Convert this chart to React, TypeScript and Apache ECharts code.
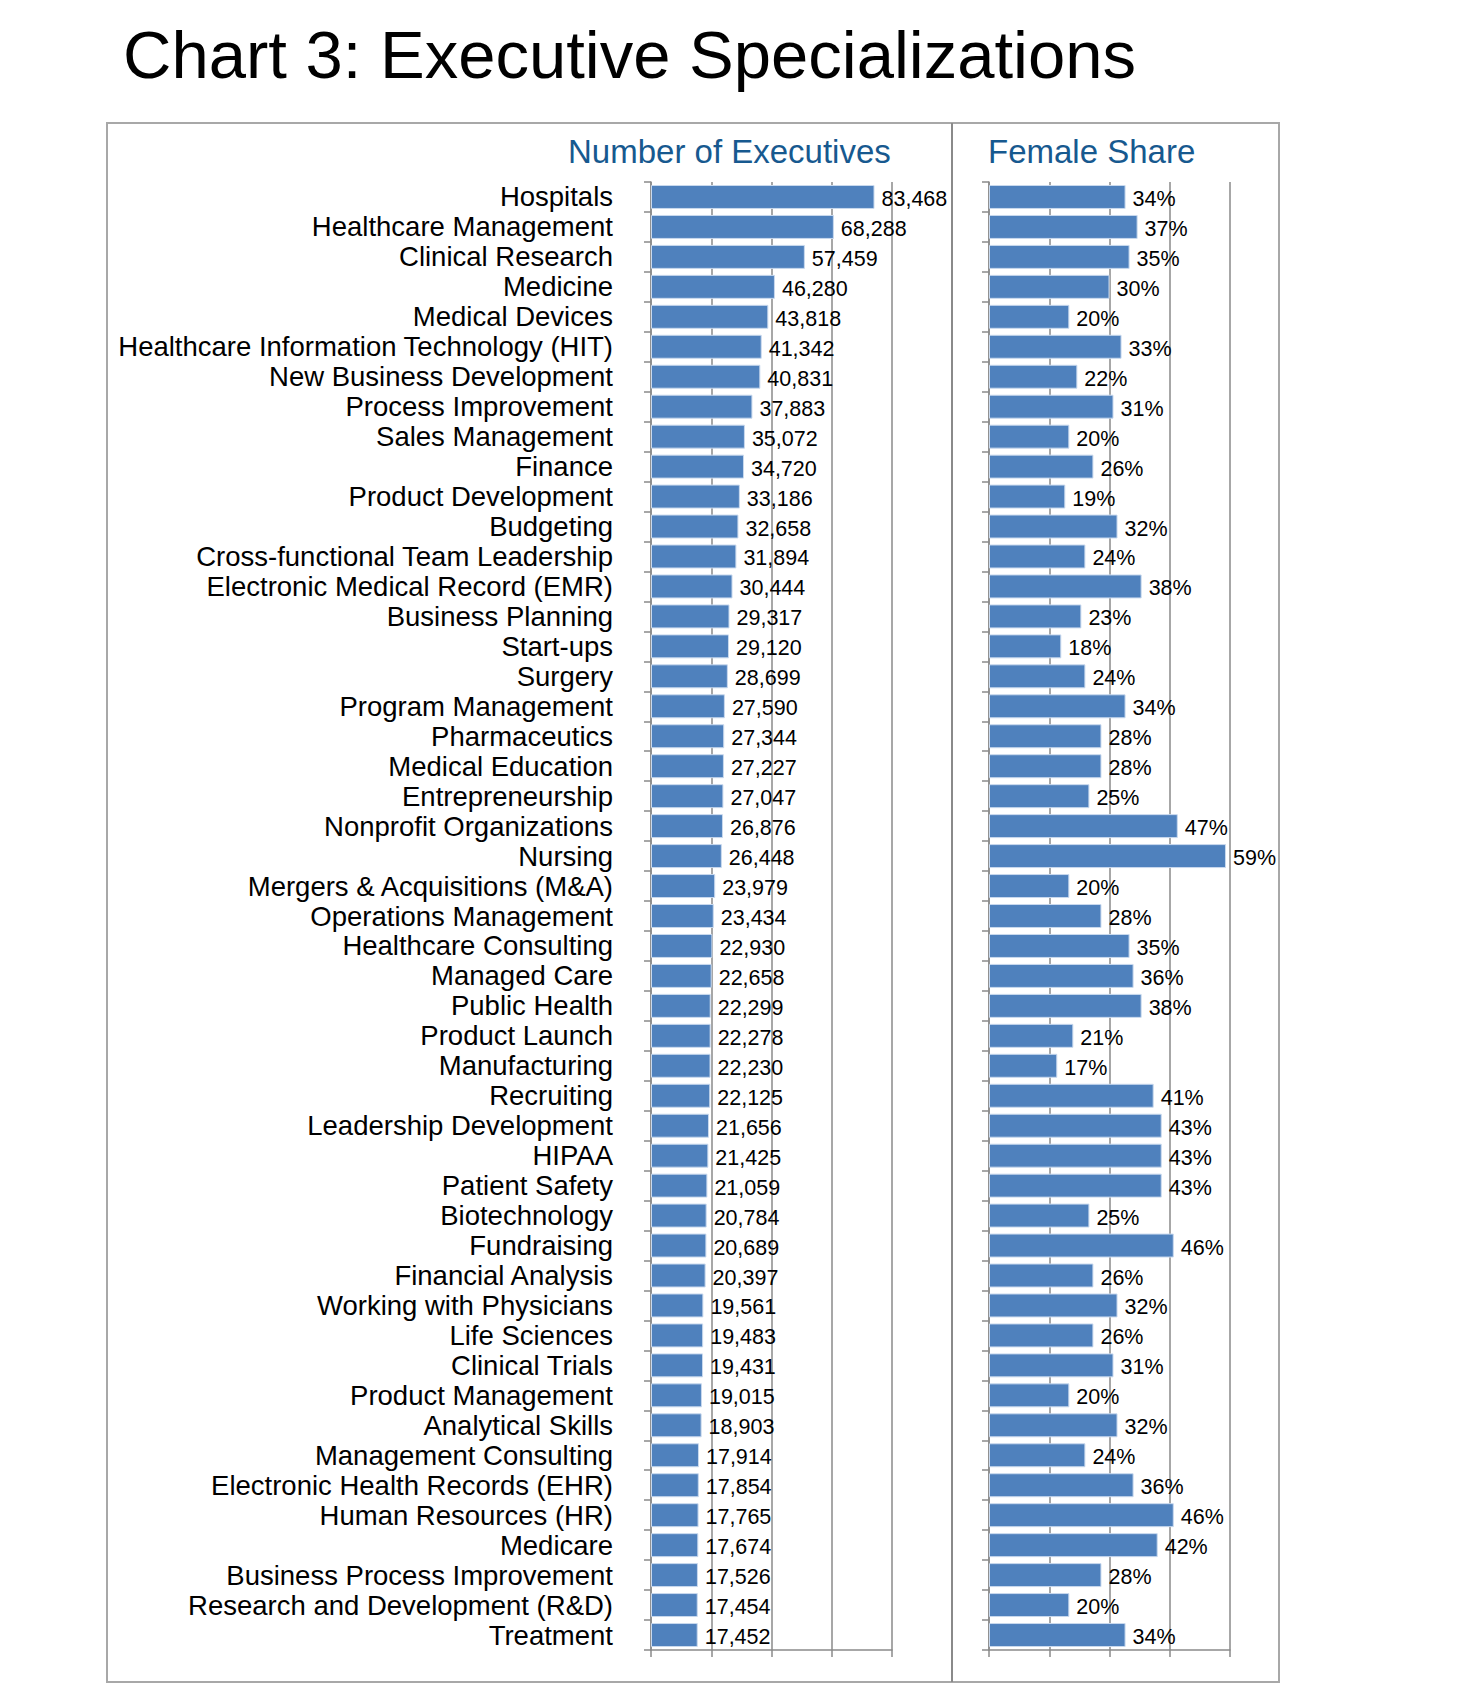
import React, { useEffect, useRef } from "react";
import * as echarts from "echarts";

const categories: string[] = [
  "Hospitals",
  "Healthcare Management",
  "Clinical Research",
  "Medicine",
  "Medical Devices",
  "Healthcare Information Technology (HIT)",
  "New Business Development",
  "Process Improvement",
  "Sales Management",
  "Finance",
  "Product Development",
  "Budgeting",
  "Cross-functional Team Leadership",
  "Electronic Medical Record (EMR)",
  "Business Planning",
  "Start-ups",
  "Surgery",
  "Program Management",
  "Pharmaceutics",
  "Medical Education",
  "Entrepreneurship",
  "Nonprofit Organizations",
  "Nursing",
  "Mergers & Acquisitions (M&A)",
  "Operations Management",
  "Healthcare Consulting",
  "Managed Care",
  "Public Health",
  "Product Launch",
  "Manufacturing",
  "Recruiting",
  "Leadership Development",
  "HIPAA",
  "Patient Safety",
  "Biotechnology",
  "Fundraising",
  "Financial Analysis",
  "Working with Physicians",
  "Life Sciences",
  "Clinical Trials",
  "Product Management",
  "Analytical Skills",
  "Management Consulting",
  "Electronic Health Records (EHR)",
  "Human Resources (HR)",
  "Medicare",
  "Business Process Improvement",
  "Research and Development (R&D)",
  "Treatment",
];

const executives: number[] = [
  83468, 68288, 57459, 46280, 43818, 41342, 40831, 37883, 35072, 34720,
  33186, 32658, 31894, 30444, 29317, 29120, 28699, 27590, 27344, 27227,
  27047, 26876, 26448, 23979, 23434, 22930, 22658, 22299, 22278, 22230,
  22125, 21656, 21425, 21059, 20784, 20689, 20397, 19561, 19483, 19431,
  19015, 18903, 17914, 17854, 17765, 17674, 17526, 17454, 17452,
];

const femaleShare: number[] = [
  34, 37, 35, 30, 20, 33, 22, 31, 20, 26,
  19, 32, 24, 38, 23, 18, 24, 34, 28, 28,
  25, 47, 59, 20, 28, 35, 36, 38, 21, 17,
  41, 43, 43, 43, 25, 46, 26, 32, 26, 31,
  20, 32, 24, 36, 46, 42, 28, 20, 34,
];

const titleText = "Chart 3: Executive Specializations";
const panelTitles: string[] = ["Number of Executives", "Female Share"];

const FONT = "'Liberation Sans', Arial, Helvetica, sans-serif";
const AXIS_GRAY = "#8a8a8a";
const BAR_BLUE = "#4F81BD";

export default function App() {
  const ref = useRef<HTMLDivElement>(null);

  useEffect(() => {
    if (!ref.current) return;
    const chart = echarts.init(ref.current, undefined, { renderer: "svg" });

    const axisCommonY = (gridIndex: number, showLabels: boolean) => ({
      type: "category" as const,
      gridIndex,
      data: categories,
      inverse: true,
      boundaryGap: true,
      axisLine: { show: true, lineStyle: { color: AXIS_GRAY, width: 1.5 } },
      axisTick: { show: true, length: 7, interval: 0, lineStyle: { color: AXIS_GRAY, width: 1.5 } },
      axisLabel: {
        show: showLabels,
        interval: 0,
        fontSize: 27.5,
        fontFamily: FONT,
        color: "#000",
        margin: 38,
        padding: [3, 0, 0, 0],
      },
      splitLine: { show: false },
    });

    const axisCommonX = (gridIndex: number, max: number, interval: number) => ({
      type: "value" as const,
      gridIndex,
      min: 0,
      max,
      interval,
      axisLine: { show: true, lineStyle: { color: AXIS_GRAY, width: 1.5 } },
      axisTick: { show: true, length: 7, lineStyle: { color: AXIS_GRAY, width: 1.5 } },
      axisLabel: { show: false },
      splitLine: { show: true, lineStyle: { color: AXIS_GRAY, width: 1.5 } },
    });

    const labelStyle = {
      show: true,
      position: "right" as const,
      distance: 7,
      offset: [0, 2],
      fontSize: 21.5,
      fontFamily: FONT,
      color: "#000",
    };

    chart.setOption({
      animation: false,
      backgroundColor: "#ffffff",
      grid: [
        { left: 651, width: 241, top: 182, height: 1468 },
        { left: 989, width: 241, top: 182, height: 1468 },
      ],
      xAxis: [axisCommonX(0, 90000, 22500), axisCommonX(1, 60, 15)],
      yAxis: [axisCommonY(0, true), axisCommonY(1, false)],
      series: [
        {
          type: "bar",
          xAxisIndex: 0,
          yAxisIndex: 0,
          data: executives,
          barCategoryGap: "20%",
          itemStyle: { color: BAR_BLUE, borderColor: "#c9d9ee", borderWidth: 1 },
          label: {
            ...labelStyle,
            formatter: (p: any) => Number(p.value).toLocaleString("en-US"),
          },
          z: 3,
        },
        {
          type: "bar",
          xAxisIndex: 1,
          yAxisIndex: 1,
          data: femaleShare,
          barCategoryGap: "20%",
          itemStyle: { color: BAR_BLUE, borderColor: "#c9d9ee", borderWidth: 1 },
          label: {
            ...labelStyle,
            formatter: (p: any) => `${p.value}%`,
          },
          z: 3,
        },
      ],
      graphic: [
        {
          type: "rect",
          z: -10,
          silent: true,
          shape: { x: 107, y: 123, width: 1172, height: 1559 },
          style: { fill: "none", stroke: "#a8a8a8", lineWidth: 2 },
        },
        {
          type: "line",
          z: -10,
          silent: true,
          shape: { x1: 952, y1: 123, x2: 952, y2: 1682 },
          style: { stroke: AXIS_GRAY, lineWidth: 2 },
        },
        {
          type: "text",
          x: 123,
          y: 54,
          style: {
            text: titleText,
            font: `67px ${FONT}`,
            fill: "#000",
            align: "left",
            verticalAlign: "middle",
          },
        },
        {
          type: "text",
          x: 568,
          y: 151,
          style: {
            text: panelTitles[0],
            font: `33px ${FONT}`,
            fill: "#17598F",
            align: "left",
            verticalAlign: "middle",
          },
        },
        {
          type: "text",
          x: 988,
          y: 151,
          style: {
            text: panelTitles[1],
            font: `33px ${FONT}`,
            fill: "#17598F",
            align: "left",
            verticalAlign: "middle",
          },
        },
      ],
    });

    return () => {
      chart.dispose();
    };
  }, []);

  return (
    <div
      ref={ref}
      style={{
        position: "absolute",
        left: 0,
        top: 0,
        width: 1481,
        height: 1700,
        background: "#ffffff",
      }}
    />
  );
}
